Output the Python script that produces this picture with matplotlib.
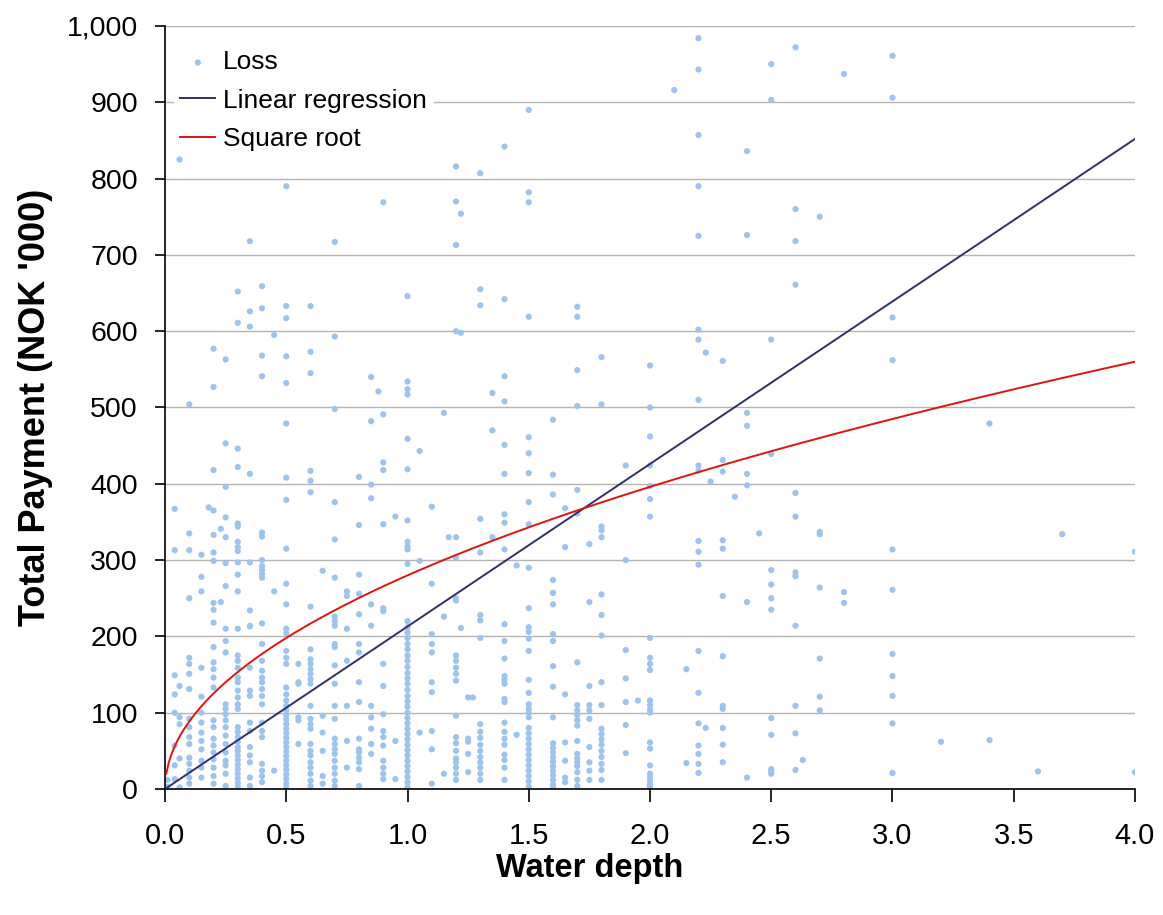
import numpy as np
import matplotlib
matplotlib.use("Agg")
import matplotlib.pyplot as plt

# Loss observations: total payment (NOK '000) per water depth level
d0_01 = [12, 3]
d0_04 = [367, 313, 149, 124, 100, 57, 31, 13]
d0_06 = [825, 135, 94, 85, 40, 2]
d0_10 = [504, 335, 313, 250, 172, 164, 151, 131, 92, 81, 68, 59, 41, 33, 24, 15, 7]
d0_15 = [307, 278, 259, 159, 121, 100, 87, 74, 63, 52, 37, 28, 15]
d0_18 = [369]
d0_20 = [577, 527, 418, 365, 333, 310, 299, 244, 235, 218, 186, 166, 157, 146,
         133, 90, 81, 66, 57, 48, 39, 28, 17, 7]
d0_23 = [341, 245]
d0_25 = [563, 453, 396, 356, 330, 296, 266, 210, 194, 179, 111, 105, 98, 90, 81,
         70, 59, 48, 37, 31, 20, 4]
d0_30 = [652, 611, 446, 422, 348, 344, 324, 317, 312, 297, 281, 259, 210, 175,
         168, 159, 146, 140, 129, 120, 111, 105, 81, 75, 68, 62, 55, 50, 44, 38,
         32, 26, 20, 14, 8, 3]
d0_35 = [718, 626, 606, 413, 297, 234, 214, 213, 159, 129, 122, 87, 76, 55, 44,
         35, 15, 4]
d0_40 = [659, 630, 568, 541, 336, 331, 300, 292, 287, 282, 277, 217, 190, 168,
         155, 146, 140, 131, 122, 111, 87, 76, 68, 33, 24, 17, 9]
d0_45 = [595, 259, 24]
d0_50 = [790, 633, 617, 567, 532, 479, 408, 379, 315, 269, 242, 210, 204, 181,
         172, 164, 133, 124, 116, 109, 103, 97, 91, 85, 79, 73, 67, 61, 55, 49,
         43, 37, 31, 25, 19, 13, 7, 2]
d0_55 = [164, 140, 138, 94, 90, 59]
d0_60 = [633, 573, 545, 417, 404, 389, 239, 183, 170, 164, 157, 151, 144, 138,
         109, 92, 85, 79, 59, 50, 44, 35, 28, 20, 11, 4]
d0_65 = [286, 96, 74, 50, 17, 7]
d0_70 = [717, 593, 498, 376, 327, 277, 226, 220, 214, 190, 186, 162, 138, 109,
         92, 66, 59, 52, 46, 37, 28, 20, 11, 4]
d0_75 = [259, 253, 210, 168, 109, 63, 28]
d0_80 = [409, 346, 281, 256, 229, 190, 179, 140, 114, 66, 52, 48, 41, 35, 26, 4]
d0_85 = [540, 482, 399, 381, 242, 214, 109, 94, 79, 59, 46]
d0_88 = [521]
d0_90 = [769, 491, 428, 418, 347, 237, 233, 164, 135, 98, 76, 68, 57, 37, 28,
         20, 13]
d0_95 = [357, 63, 13]
d1_00 = [646, 534, 524, 517, 459, 419, 352, 324, 318, 314, 295, 220, 212, 205,
         198, 190, 183, 175, 168, 160, 152, 145, 138, 130, 122, 115, 108, 100,
         93, 86, 79, 72, 65, 58, 51, 44, 37, 30, 23, 16, 9, 3]
d1_05 = [443, 299, 74]
d1_10 = [370, 269, 203, 190, 179, 140, 127, 76, 52, 7]
d1_15 = [493, 226, 20]
d1_17 = [330]
d1_20 = [816, 770, 713, 600, 330, 303, 250, 247, 175, 168, 159, 151, 142, 96,
         68, 60, 50, 40, 35, 28, 20, 12]
d1_22 = [754, 598, 211]
d1_25 = [120, 66, 62, 46, 22]
d1_27 = [120]
d1_30 = [807, 655, 634, 354, 310, 228, 221, 198, 85, 75, 67, 58, 50, 42, 35,
         28, 20, 12]
d1_35 = [519, 470, 330]
d1_40 = [842, 642, 541, 508, 451, 413, 360, 349, 314, 216, 194, 171, 148, 143,
         138, 118, 114, 87, 75, 66, 58, 45, 38, 28, 12]
d1_45 = [293, 71]
d1_50 = [890, 782, 769, 619, 461, 440, 414, 376, 347, 290, 237, 212, 206, 197,
         181, 143, 126, 111, 105, 100, 94, 80, 73, 66, 59, 52, 45, 38, 31, 24,
         17, 10, 3]
d1_60 = [484, 412, 386, 274, 257, 242, 203, 194, 161, 134, 94, 60, 54, 48, 42,
         36, 30, 24, 18, 12, 6, 1]
d1_65 = [368, 317, 124, 61, 37, 15, 9]
d1_70 = [632, 619, 549, 502, 392, 361, 166, 110, 103, 97, 90, 83, 63, 46, 40,
         35, 30, 22, 12, 4]
d1_75 = [321, 245, 135, 110, 103, 92, 55, 35, 24, 12]
d1_80 = [566, 504, 344, 339, 330, 255, 228, 201, 140, 110, 79, 72, 65, 58, 50,
         42, 33, 25, 12]
d1_90 = [424, 300, 182, 145, 114, 84, 47]
d1_95 = [116]
d2_00 = [555, 500, 462, 424, 397, 380, 357, 198, 172, 164, 156, 116, 110, 104,
         100, 61, 53, 31, 20, 15, 10, 5, 2]
d2_10 = [916]
d2_15 = [157, 34]
d2_20 = [984, 943, 857, 790, 725, 602, 589, 510, 424, 417, 325, 311, 294, 181,
         126, 86, 57, 46, 33, 21]
d2_23 = [572, 80]
d2_25 = [403]
d2_30 = [561, 431, 416, 326, 315, 253, 174, 109, 105, 80, 58, 35]
d2_35 = [383]
d2_40 = [836, 726, 493, 476, 413, 398, 245, 15]
d2_45 = [335]
d2_50 = [950, 903, 589, 439, 287, 268, 250, 235, 93, 71, 26, 23, 20]
d2_60 = [972, 760, 718, 661, 388, 357, 284, 279, 214, 109, 73, 25]
d2_63 = [38]
d2_70 = [750, 337, 334, 264, 171, 121, 103]
d2_80 = [937, 258, 244]
d3_00 = [961, 906, 618, 562, 314, 261, 177, 148, 122, 86, 21]
d3_20 = [62]
d3_40 = [479, 64]
d3_60 = [23]
d3_70 = [334]
d4_00 = [311, 22]

columns = [
    (0.01, d0_01), (0.04, d0_04), (0.06, d0_06), (0.10, d0_10), (0.15, d0_15),
    (0.18, d0_18), (0.20, d0_20), (0.23, d0_23), (0.25, d0_25), (0.30, d0_30),
    (0.35, d0_35), (0.40, d0_40), (0.45, d0_45), (0.50, d0_50), (0.55, d0_55),
    (0.60, d0_60), (0.65, d0_65), (0.70, d0_70), (0.75, d0_75), (0.80, d0_80),
    (0.85, d0_85), (0.88, d0_88), (0.90, d0_90), (0.95, d0_95), (1.00, d1_00),
    (1.05, d1_05), (1.10, d1_10), (1.15, d1_15), (1.17, d1_17), (1.20, d1_20),
    (1.22, d1_22), (1.25, d1_25), (1.27, d1_27), (1.30, d1_30), (1.35, d1_35),
    (1.40, d1_40), (1.45, d1_45), (1.50, d1_50), (1.60, d1_60), (1.65, d1_65),
    (1.70, d1_70), (1.75, d1_75), (1.80, d1_80), (1.90, d1_90), (1.95, d1_95),
    (2.00, d2_00), (2.10, d2_10), (2.15, d2_15), (2.20, d2_20), (2.23, d2_23),
    (2.25, d2_25), (2.30, d2_30), (2.35, d2_35), (2.40, d2_40), (2.45, d2_45),
    (2.50, d2_50), (2.60, d2_60), (2.63, d2_63), (2.70, d2_70), (2.80, d2_80),
    (3.00, d3_00), (3.20, d3_20), (3.40, d3_40), (3.60, d3_60), (3.70, d3_70),
    (4.00, d4_00),
]

# fitted curves: payment = a * depth  and  payment = b * sqrt(depth)
linear_slope = 213.0
sqrt_coef = 280.0

x_ticks = [0.0, 0.5, 1.0, 1.5, 2.0, 2.5, 3.0, 3.5, 4.0]
y_ticks = list(range(0, 1001, 100))

depth = np.concatenate([[d] * len(p) for d, p in columns])
payment = np.concatenate([p for d, p in columns])

plt.rcParams['font.family'] = ['Liberation Sans', 'DejaVu Sans']

fig = plt.figure(figsize=(11.63, 9.15), dpi=100)
ax = fig.add_axes([0.1419, 0.1377, 0.8340, 0.8339])

ax.scatter(depth, payment, s=20, color='#9cc4ec', edgecolors='none',
           label='Loss', zorder=2)

xs = np.linspace(0.005, 4.0, 400)
ax.plot(xs, linear_slope * xs, color='#2f2f6b', lw=1.4,
        label='Linear regression', zorder=3)
ax.plot(xs, sqrt_coef * np.sqrt(xs), color='#e0140c', lw=1.4,
        label='Square root', zorder=3)

ax.set_xlim(0, 4.0)
ax.set_ylim(0, 1000)
ax.set_xticks(x_ticks)
ax.set_yticks(y_ticks)
ax.set_xticklabels([f'{v:.1f}' for v in x_ticks], fontsize=21)
ax.set_yticklabels([f'{v:,}' for v in y_ticks], fontsize=20.5)

ax.grid(axis='y', color='#b4b4b4', lw=1.0, zorder=0)
ax.set_axisbelow(True)
for side in ('top', 'right'):
    ax.spines[side].set_visible(False)
for side in ('left', 'bottom'):
    ax.spines[side].set_color('black')
    ax.spines[side].set_linewidth(1.2)
ax.tick_params(axis='both', direction='out', width=1.2, colors='black')
ax.tick_params(axis='x', length=9, pad=15)
ax.tick_params(axis='y', length=7.5, pad=12)

ax.set_xlabel('Water depth', fontsize=23.5, fontweight='bold', labelpad=2)
ax.xaxis.label.set_x(0.438)
ax.set_ylabel("Total Payment (NOK '000)", fontsize=26, fontweight='bold',
              labelpad=10)

leg = ax.legend(loc='upper left', bbox_to_anchor=(0, 0.988), fontsize=19,
                frameon=True, facecolor='white', edgecolor='none', framealpha=1,
                handlelength=1.33, handletextpad=0.3, borderpad=0.25,
                borderaxespad=0.33, labelspacing=0.54, markerscale=1.0)
# keep the legend box over the grid but under the loss points
leg.set_zorder(1.5)

fig.savefig('out.png', dpi=100)
